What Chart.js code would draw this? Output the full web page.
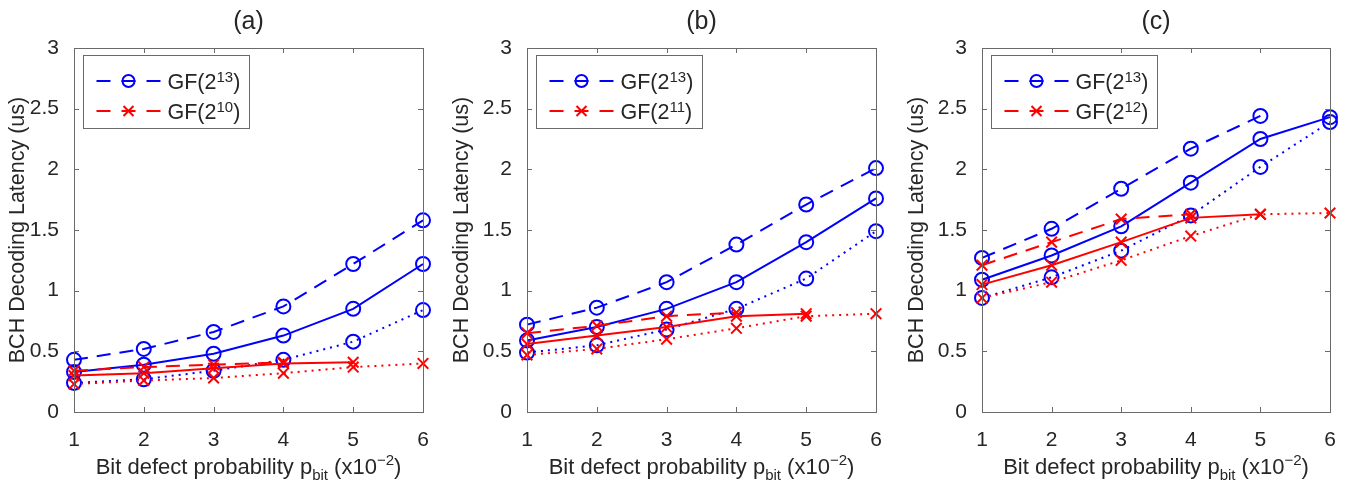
<!DOCTYPE html>
<html>
<head>
<meta charset="utf-8">
<script src="https://cdn.jsdelivr.net/npm/chart.js@4.4.1/dist/chart.umd.min.js"></script>
<style>
  body { margin: 0; background: #fff; width: 1345px; height: 484px; position: relative; overflow: hidden; }
  .panel { position: absolute; top: 0; height: 484px; }
</style>
</head>
<body>
<div class="panel" style="left:0px;width:445px"><canvas id="chartA"></canvas></div>
<div class="panel" style="left:444px;width:454px"><canvas id="chartB"></canvas></div>
<div class="panel" style="left:899px;width:446px"><canvas id="chartC"></canvas></div>
<script>
// x: bit defect probability (x10^-2)
const xTicks = ['1', '2', '3', '4', '5', '6'];
const yTicks = [0, 0.5, 1, 1.5, 2, 2.5, 3];
const panelTitles = ['(a)', '(b)', '(c)'];
const blueField = '13';
const redFields = ['10', '11', '12'];

// panel (a)
const aBlueDashed = [0.43, 0.52, 0.66, 0.87, 1.22, 1.58];
const aBlueSolid  = [0.33, 0.39, 0.48, 0.63, 0.85, 1.22];
const aBlueDotted = [0.24, 0.27, 0.34, 0.43, 0.58, 0.84];
const aRedDashed  = [0.34, 0.37, 0.39, 0.41, null, null];
const aRedSolid   = [0.30, 0.32, 0.36, 0.40, 0.41, null];
const aRedDotted  = [0.23, 0.26, 0.28, 0.32, 0.37, 0.40];

// panel (b)
const bBlueDashed = [0.72, 0.86, 1.07, 1.38, 1.71, 2.01];
const bBlueSolid  = [0.59, 0.70, 0.85, 1.07, 1.40, 1.76];
const bBlueDotted = [0.49, 0.55, 0.68, 0.85, 1.10, 1.49];
const bRedDashed  = [0.65, 0.71, 0.79, 0.82, null, null];
const bRedSolid   = [0.56, 0.63, 0.70, 0.79, 0.81, null];
const bRedDotted  = [0.47, 0.52, 0.60, 0.69, 0.79, 0.81];

// panel (c)
const cBlueDashed = [1.27, 1.51, 1.84, 2.17, 2.44, null];
const cBlueSolid  = [1.09, 1.29, 1.53, 1.89, 2.25, 2.43];
const cBlueDotted = [0.94, 1.11, 1.33, 1.62, 2.02, 2.39];
const cRedDashed  = [1.21, 1.40, 1.59, 1.63, null, null];
const cRedSolid   = [1.05, 1.21, 1.40, 1.60, 1.63, null];
const cRedDotted  = [0.94, 1.07, 1.25, 1.45, 1.63, 1.64];

const FONT = '"Liberation Sans", Arial, Helvetica, sans-serif';
const TEXT = '#262626';
const AXIS = '#6a6a6a';
const BLUE = '#0000ff';
const RED = '#ff0000';
const DASH = [14, 9];
const DOT = [2, 5];

function serie(data, color, dash, marker) {
    return {
        data: data,
        borderColor: color,
        backgroundColor: 'rgba(0,0,0,0)',
        borderWidth: 2,
        borderDash: dash,
        borderCapStyle: 'butt',
        tension: 0,
        spanGaps: false,
        clip: false,
        pointStyle: marker,
        pointRadius: marker === 'circle' ? 7 : 7.5,
        pointBorderWidth: 2,
        pointBorderColor: color,
        pointBackgroundColor: 'rgba(0,0,0,0)',
        pointHoverRadius: 7
    };
}

// box, inward ticks, legend and x label (MATLAB look)
const matlabFrame = {
    id: 'matlabFrame',
    afterDatasetsDraw(chart, args, opts) {
        const ctx = chart.ctx;
        const a = chart.chartArea;
        const sx = chart.scales.x, sy = chart.scales.y;
        ctx.save();

        // box
        ctx.strokeStyle = AXIS;
        ctx.lineWidth = 1;
        ctx.setLineDash([]);
        ctx.strokeRect(Math.round(a.left) + 0.5, Math.round(a.top) + 0.5,
            Math.round(a.right - a.left), Math.round(a.bottom - a.top));

        // ticks pointing inward
        ctx.beginPath();
        xTicks.forEach((t, i) => {
            const px = Math.round(sx.getPixelForValue(i)) + 0.5;
            ctx.moveTo(px, a.bottom); ctx.lineTo(px, a.bottom - 5);
            ctx.moveTo(px, a.top); ctx.lineTo(px, a.top + 5);
        });
        yTicks.forEach(v => {
            const py = Math.round(sy.getPixelForValue(v)) + 0.5;
            ctx.moveTo(a.left, py); ctx.lineTo(a.left + 5, py);
            ctx.moveTo(a.right, py); ctx.lineTo(a.right - 5, py);
        });
        ctx.stroke();

        // legend
        const bx = Math.round(a.left) + 9.5, by = Math.round(a.top) + 7.5;
        ctx.fillStyle = '#fff';
        ctx.fillRect(bx, by, 166, 73);
        ctx.strokeStyle = AXIS;
        ctx.strokeRect(bx, by, 166, 73);
        const rows = [
            { color: BLUE, marker: 'circle', field: blueField },
            { color: RED, marker: 'cross', field: opts.redField }
        ];
        rows.forEach((r, i) => {
            const base = by + 33 + i * 30;
            const cy = base - 7.5;
            ctx.strokeStyle = r.color;
            ctx.lineWidth = 2;
            ctx.setLineDash([14, 11]);
            ctx.beginPath();
            ctx.moveTo(bx + 13, cy); ctx.lineTo(bx + 77, cy);
            ctx.stroke();
            ctx.setLineDash([]);
            const mx = bx + 45;
            ctx.beginPath();
            if (r.marker === 'circle') {
                ctx.arc(mx, cy, 6, 0, Math.PI * 2);
            } else {
                const d = 5;
                ctx.moveTo(mx - d, cy - d); ctx.lineTo(mx + d, cy + d);
                ctx.moveTo(mx - d, cy + d); ctx.lineTo(mx + d, cy - d);
            }
            ctx.stroke();
            drawRich(ctx, [
                { t: 'GF(2', s: 21.5, dy: 0 },
                { t: r.field, s: 15, dy: -7 },
                { t: ')', s: 21.5, dy: 0 }
            ], bx + 84, base, 'left');
        });

        // x axis label
        drawRich(ctx, [
            { t: 'Bit defect probability p', s: 22, dy: 0 },
            { t: 'bit', s: 15, dy: 6 },
            { t: ' (x10', s: 22, dy: 0 },
            { t: '\u22122', s: 15, dy: -9 },
            { t: ')', s: 22, dy: 0 }
        ], (a.left + a.right) / 2, 474, 'center');

        ctx.restore();
    }
};

function drawRich(ctx, parts, x, y, align) {
    ctx.fillStyle = TEXT;
    ctx.textBaseline = 'alphabetic';
    ctx.textAlign = 'left';
    let total = 0;
    parts.forEach(p => {
        ctx.font = p.s + 'px ' + FONT;
        p.w = ctx.measureText(p.t).width;
        total += p.w;
    });
    let cx = align === 'center' ? x - total / 2 : x;
    parts.forEach(p => {
        ctx.font = p.s + 'px ' + FONT;
        ctx.fillText(p.t, cx, y + p.dy);
        cx += p.w;
    });
}

function drawPanel(id, idx, yWidth, rightPad, sets) {
    const grafica = document.getElementById(id);
    new Chart(grafica, {
        type: 'line',
        data: {
            labels: xTicks,
            datasets: [
                serie(sets[3], RED, DASH, 'crossRot'),
                serie(sets[4], RED, [], 'crossRot'),
                serie(sets[5], RED, DOT, 'crossRot'),
                serie(sets[0], BLUE, DASH, 'circle'),
                serie(sets[1], BLUE, [], 'circle'),
                serie(sets[2], BLUE, DOT, 'circle')
            ]
        },
        options: {
            responsive: true,
            maintainAspectRatio: false,
            animation: false,
            layout: { padding: { left: 0, right: rightPad, top: 0, bottom: 0 } },
            plugins: {
                legend: { display: false },
                tooltip: { enabled: false },
                title: {
                    display: true,
                    text: panelTitles[idx],
                    fullSize: false,
                    color: TEXT,
                    font: { family: FONT, size: 25, weight: 'normal' },
                    padding: { top: 7, bottom: 11 }
                },
                matlabFrame: { redField: redFields[idx] }
            },
            scales: {
                x: {
                    type: 'category',
                    offset: false,
                    grid: { display: false },
                    border: { display: false },
                    ticks: { color: TEXT, font: { family: FONT, size: 21 }, padding: 7.4, maxRotation: 0 },
                    afterFit(s) { s.height = 72; }
                },
                y: {
                    min: 0,
                    max: 3,
                    grid: { display: false },
                    border: { display: false },
                    ticks: {
                        color: TEXT,
                        font: { family: FONT, size: 21 },
                        padding: 7,
                        callback: v => String(v)
                    },
                    afterBuildTicks(s) { s.ticks = yTicks.map(v => ({ value: v })); },
                    afterFit(s) { s.width = yWidth; },
                    title: {
                        display: true,
                        text: 'BCH Decoding Latency (us)',
                        color: TEXT,
                        font: { family: FONT, size: 21.5 },
                        padding: { top: 5, bottom: 0 }
                    }
                }
            }
        },
        plugins: [matlabFrame]
    });
}

drawPanel('chartA', 0, 74, 22, [aBlueDashed, aBlueSolid, aBlueDotted, aRedDashed, aRedSolid, aRedDotted]);
drawPanel('chartB', 1, 83, 22, [bBlueDashed, bBlueSolid, bBlueDotted, bRedDashed, bRedSolid, bRedDotted]);
drawPanel('chartC', 2, 83, 15, [cBlueDashed, cBlueSolid, cBlueDotted, cRedDashed, cRedSolid, cRedDotted]);
</script>
</body>
</html>
